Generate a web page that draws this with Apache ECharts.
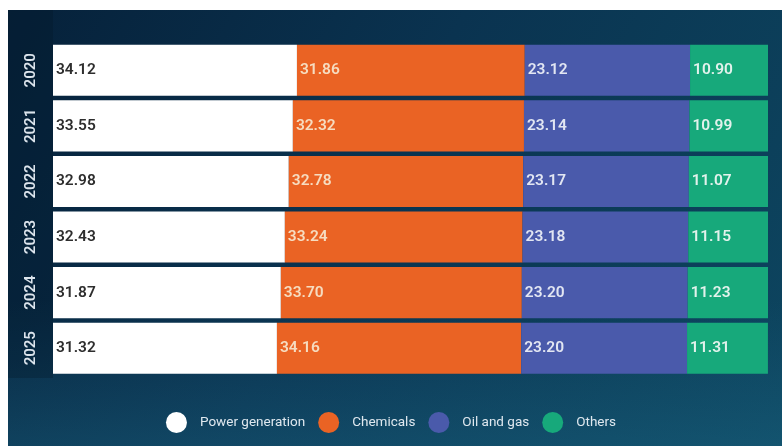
<!DOCTYPE html>
<html>
<head>
<meta charset="utf-8">
<script src="https://cdn.jsdelivr.net/npm/echarts@6/dist/echarts.min.js"></script>
<style>
  html, body { margin: 0; padding: 0; background: #ffffff; }
  #chart { width: 782px; height: 446px; }
</style>
</head>
<body>
<div id="chart"></div>
<script>
// Share of demand by sector, per year (each row sums to 100)
const years = ['2020', '2021', '2022', '2023', '2024', '2025'];
const powerGeneration = [34.12, 33.55, 32.98, 32.43, 31.87, 31.32];
const chemicals = [31.86, 32.32, 32.78, 33.24, 33.70, 34.16];
const oilAndGas = [23.12, 23.14, 23.17, 23.18, 23.20, 23.20];
const others = [10.90, 10.99, 11.07, 11.15, 11.23, 11.31];

const chart = echarts.init(document.getElementById('chart'), null, { renderer: 'canvas' });

function makeSeries(name, values, color, textColor) {
  return {
    name: name,
    type: 'bar',
    stack: 'total',
    data: values,
    barCategoryGap: '8%',
    itemStyle: { color: color },
    label: {
      show: true,
      position: 'insideLeft',
      distance: 3,
      color: textColor,
      fontFamily: 'Roboto',
      fontSize: 15.5,
      fontWeight: 600,
      formatter: p => p.value.toFixed(2)
    },
    emphasis: { disabled: true }
  };
}

chart.setOption({
  animation: false,
  backgroundColor: '#ffffff',
  graphic: [
    {
      type: 'rect',
      z: -10,
      silent: true,
      shape: { x: 8, y: 10, width: 774, height: 436 },
      style: {
        fill: {
          type: 'linear', x: 0, y: 0, x2: 1, y2: 1,
          colorStops: [
            { offset: 0, color: '#06213a' },
            { offset: 0.45, color: '#0a3350' },
            { offset: 1, color: '#0d4660' }
          ]
        }
      }
    },
    {
      type: 'rect',
      z: -9,
      silent: true,
      shape: { x: 8, y: 300, width: 774, height: 146 },
      style: {
        fill: {
          type: 'linear', x: 0, y: 0, x2: 0, y2: 1,
          colorStops: [
            { offset: 0, color: 'rgba(30,100,130,0)' },
            { offset: 1, color: 'rgba(30,110,140,0.35)' }
          ]
        }
      }
    },
    {
      type: 'rect',
      z: -8,
      silent: true,
      shape: { x: 8, y: 10, width: 45, height: 368 },
      style: { fill: 'rgba(3,22,40,0.3)' }
    }
  ],
  grid: { left: 53, right: 14, top: 42.5, bottom: 70, containLabel: false },
  legend: {
    bottom: 8,
    left: 'center',
    icon: 'circle',
    itemWidth: 21,
    itemHeight: 21,
    itemGap: 13,
    textStyle: { color: '#dfe8ef', fontFamily: 'Roboto', fontSize: 13.5, padding: [0, 0, 0, 8] },
    data: ['Power generation', 'Chemicals', 'Oil and gas', 'Others']
  },
  xAxis: {
    type: 'value',
    min: 0,
    max: 100,
    show: false
  },
  yAxis: {
    type: 'category',
    data: years,
    inverse: true,
    axisLine: { show: false },
    axisTick: { show: false },
    axisLabel: {
      rotate: 90,
      margin: 14,
      color: '#dce4ec',
      fontFamily: 'Roboto',
      fontSize: 15,
      fontWeight: 600
    }
  },
  series: [
    makeSeries('Power generation', powerGeneration, '#ffffff', '#2e2e2e'),
    makeSeries('Chemicals', chemicals, '#ea6324', '#f6dcc0'),
    makeSeries('Oil and gas', oilAndGas, '#4a5aab', '#e2e6f2'),
    makeSeries('Others', others, '#17a97b', '#e2f2ec')
  ]
});
</script>
</body>
</html>
